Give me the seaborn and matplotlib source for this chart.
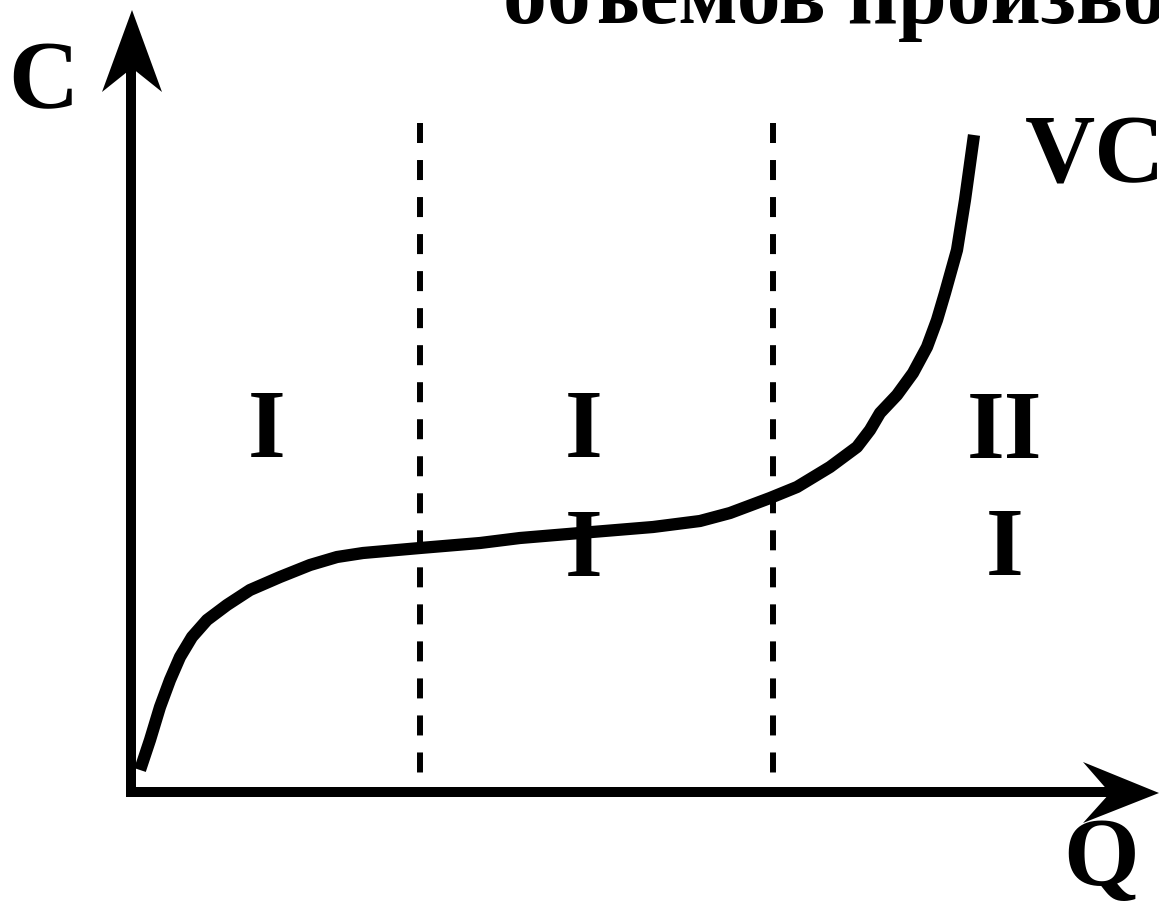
import numpy as np
import pandas as pd
import matplotlib.pyplot as plt
import seaborn as sns
from matplotlib.patches import Polygon

# ======================================================
# DATA (origin of the chart = where the axes cross)
# ======================================================

q_values = [9, 19, 29, 39, 49, 61, 76, 96, 119, 149, 179, 206, 232, 289,
            349, 389, 449, 522, 569, 599, 639, 666, 699, 726, 739, 749, 766,
            782, 796, 806, 814, 826, 834, 843]
vc_values = [22, 52, 85, 112, 135, 155, 172, 187, 202, 215, 227, 235, 239,
             244, 249, 254, 259, 265, 271, 279, 294, 305, 325, 345, 362, 379,
             397, 419, 445, 472, 499, 542, 592, 657]

boundaries = [289, 642]          # dashed lines between the stages

title_text = 'объемов производства'

df = pd.DataFrame({'Q': q_values, 'VC': vc_values})

# ======================================================
# PLOT
# ======================================================

sns.set_theme(style='white')
plt.rcParams['font.family'] = ['Liberation Serif', 'DejaVu Serif']

fig = plt.figure(figsize=(11.59, 9.07), dpi=100)
ax = fig.add_axes([0, 0, 1, 1])

# axes with arrows
ax.plot([0, 0], [-5, 726], color='black', lw=7.2, solid_capstyle='butt')
ax.plot([-4, 981], [0, 0], color='black', lw=7.2, solid_capstyle='butt')
ax.add_patch(Polygon([[1, 782], [-29, 700], [1, 724], [31, 700]],
                     closed=True, color='black', lw=0))
ax.add_patch(Polygon([[1028, -1], [952, 30], [979, -1], [952, -31]],
                     closed=True, color='black', lw=0))

# dashed stage boundaries
for b in boundaries:
    ax.plot([b, b], [669, 17], color='black', lw=4.3,
            linestyle=(0, (3.35, 2.85)), dash_capstyle='butt')

# VC curve
sns.lineplot(data=df, x='Q', y='VC', ax=ax, color='black', lw=8.8,
             solid_capstyle='butt', solid_joinstyle='round')
ax.set_xlim(-131, 1028)
ax.set_ylim(-115, 792)
ax.axis('off')

font = dict(fontsize=70, fontweight='bold', color='black')

ax.text(136, 335, 'I', ha='center', va='baseline', **font)
ax.text(453, 335, 'I', ha='center', va='baseline', **font)
ax.text(453, 216, 'I', ha='center', va='baseline', **font)
ax.text(874, 334, 'II', ha='center', va='baseline', **font)
ax.text(874, 217, 'I', ha='center', va='baseline', **font)

ax.text(894, 610, 'VC', ha='left', va='baseline', **font)
ax.text(-88, 684, 'C', ha='center', va='baseline', **font)
ax.text(970, -93, 'Q', ha='center', va='baseline', **font)

ax.text(372, 769, title_text, ha='left', va='baseline', fontsize=63,
        fontweight='bold', color='black')

plt.savefig('out.png', dpi=100)
plt.close()
